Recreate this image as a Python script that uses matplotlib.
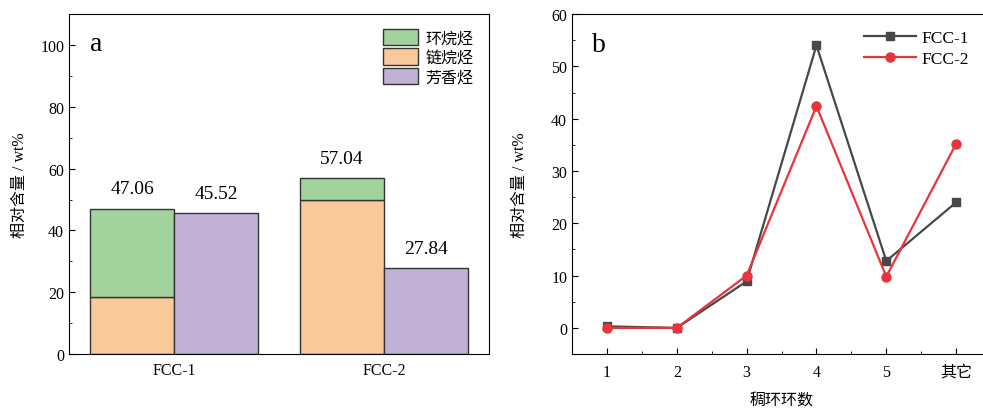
"""Two-panel chart: group composition (a) and ring-number distribution (b)."""
import numpy as np
import matplotlib
matplotlib.use("Agg")
import matplotlib.pyplot as plt
from matplotlib.ticker import MultipleLocator

plt.rcParams['font.family'] = ['Liberation Serif', 'Noto Sans CJK SC']
plt.rcParams['axes.unicode_minus'] = False

# panel a data
samples = ["FCC-1", "FCC-2"]
chain = [18.6, 49.9]           # 链烷烃
total_sat = [47.06, 57.04]     # 饱和烃合计 (链烷烃 + 环烷烃)
aromatic = [45.52, 27.84]      # 芳香烃
cyclo = [t - c for t, c in zip(total_sat, chain)]  # 环烷烃

# panel b data
ring_labels = ["1", "2", "3", "4", "5", "其它"]
fcc1 = [0.3, 0.0, 8.9, 54.0, 12.8, 24.0]
fcc2 = [0.0, 0.0, 10.0, 42.4, 9.8, 35.2]

green = "#a2d39c"
orange = "#f9c99b"
purple = "#c1b2d5"
edge = "#333333"

fig = plt.figure(figsize=(9.83, 4.10), dpi=100)
ax1 = fig.add_axes([0.0702, 0.134, 0.4273, 0.8293])
ax2 = fig.add_axes([0.5819, 0.134, 0.4263, 0.8293])

# ---- panel a
x = np.arange(1, len(samples) + 1)
w = 0.4
ax1.bar(x - w/2, chain, w, color=orange, edgecolor=edge, linewidth=1, label="链烷烃")
ax1.bar(x - w/2, cyclo, w, bottom=chain, color=green, edgecolor=edge, linewidth=1, label="环烷烃")
ax1.bar(x + w/2, aromatic, w, color=purple, edgecolor=edge, linewidth=1, label="芳香烃")

for xi, v in zip(x - w/2, total_sat):
    ax1.annotate(f"{v:.2f}", (xi, v), xytext=(0, 8), textcoords="offset points",
                 ha="center", va="bottom", fontsize=14)
for xi, v in zip(x + w/2, aromatic):
    ax1.annotate(f"{v:.2f}", (xi, v), xytext=(0, 8), textcoords="offset points",
                 ha="center", va="bottom", fontsize=14)

ax1.set_xlim(0.5, 2.5)
ax1.set_ylim(0, 110)
ax1.set_xticks(x)
ax1.set_xticklabels(samples, fontsize=11.5)
ax1.tick_params(axis="x", length=0, pad=6)
ax1.yaxis.set_major_locator(MultipleLocator(20))
ax1.yaxis.set_minor_locator(MultipleLocator(10))
ax1.tick_params(axis="y", which="major", direction="in", length=4, labelsize=11.5)
ax1.tick_params(axis="y", which="minor", direction="in", length=2.5)
ax1.set_ylabel("相对含量 / wt%", fontsize=11.5, labelpad=9)
ax1.text(0.05, 0.894, "a", transform=ax1.transAxes, fontsize=20, va="baseline")

handles, labels = ax1.get_legend_handles_labels()
order = [1, 0, 2]
ax1.legend([handles[i] for i in order], [labels[i] for i in order],
           loc="upper right", frameon=False, fontsize=11.5,
           handlelength=2.2, handleheight=1.2, handletextpad=0.45,
           labelspacing=0.12, borderaxespad=0.0,
           bbox_to_anchor=(0.978, 0.975))

# ---- panel b
pos = np.arange(1, len(ring_labels) + 1)
ax2.plot(pos, fcc1, "-s", color="#484848", lw=1.6, ms=6, label="FCC-1")
ax2.plot(pos, fcc2, "-o", color="#e8353c", lw=1.6, ms=6.5, label="FCC-2")
ax2.set_xlim(0.5, 6.5)
ax2.set_ylim(-5, 60)
ax2.set_xticks(pos)
ax2.set_xticklabels(ring_labels)
ax2.xaxis.set_minor_locator(MultipleLocator(0.5))
ax2.yaxis.set_major_locator(MultipleLocator(10))
ax2.yaxis.set_minor_locator(MultipleLocator(5))
ax2.tick_params(which="major", direction="in", length=4, labelsize=11.5)
ax2.tick_params(which="minor", direction="in", length=2.5)
ax2.tick_params(axis="x", pad=7)
ax2.set_ylabel("相对含量 / wt%", fontsize=11.5, labelpad=17)
ax2.set_xlabel("稠环环数", fontsize=11.5, labelpad=9)
ax2.text(0.048, 0.891, "b", transform=ax2.transAxes, fontsize=20, va="baseline")
ax2.legend(loc="upper right", frameon=False, fontsize=12.5, handlelength=3,
           handletextpad=0.3, labelspacing=0.3,
           bbox_to_anchor=(0.985, 1.0))

fig.savefig("out.png", dpi=100)
